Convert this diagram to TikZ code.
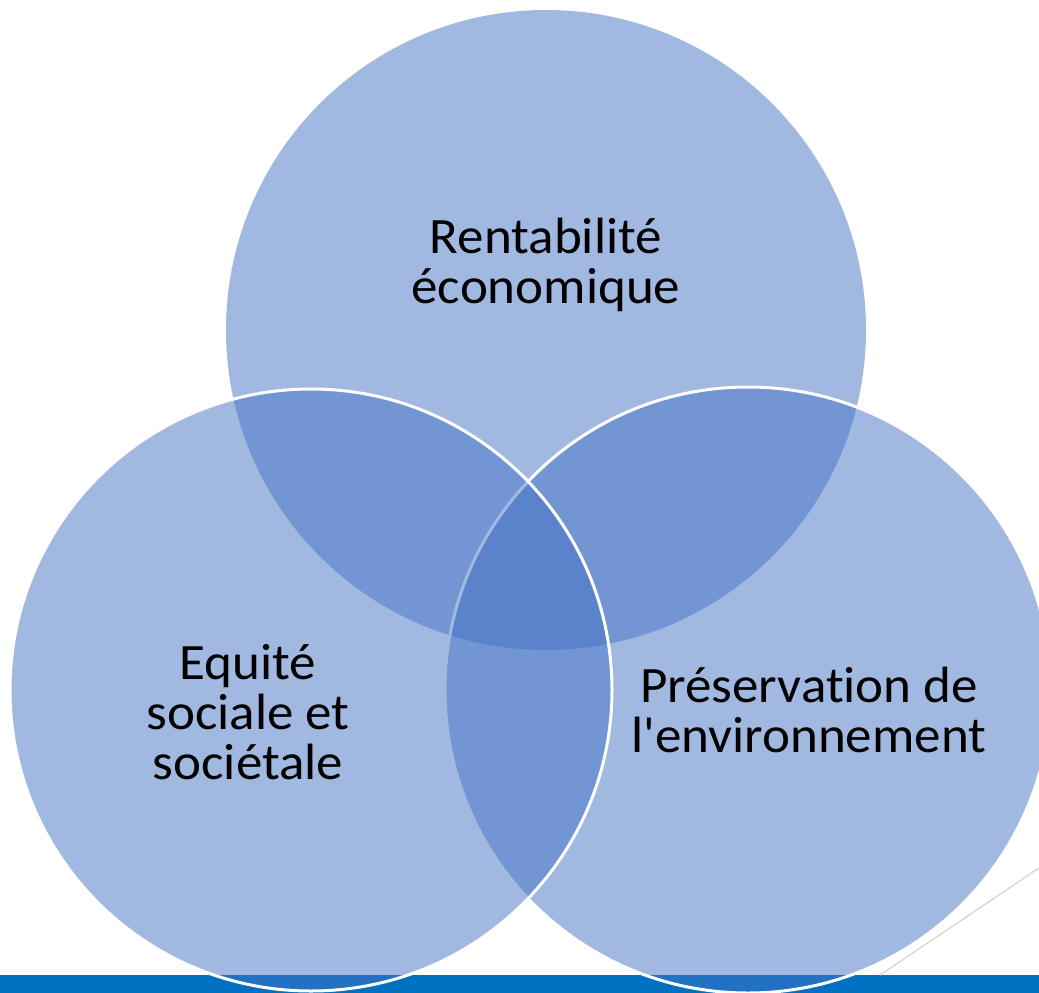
\documentclass[tikz,border=0pt]{standalone}
\usepackage{fontspec}
\setmainfont{Carlito}[Ligatures={NoCommon}, FakeStretch=1.04]
\definecolor{vennblue}{HTML}{4472C4}
\definecolor{barblue}{HTML}{0070C0}
\definecolor{linegray}{HTML}{D9D9D9}
\tikzset{
  venn/.style={fill=vennblue, fill opacity=0.5, draw=white, line width=3pt},
  lbl/.style={align=center, font=\fontsize{51}{50}\selectfont, text=black}
}
\begin{document}
\begin{tikzpicture}[x=1pt,y=-1pt]
\useasboundingbox (0,0) rectangle (1039,993);
\fill [barblue] (0,975) rectangle (1039,993);
\draw [linegray, line width=1.5pt] (880,975)--(1039,868);
\fill [vennblue, fill opacity=0.5] (546,330) circle [radius=320];
\draw [venn] (748,690) circle [radius=303];
\draw [venn] (311,690) circle [radius=301];
\node[lbl] (econ) at (546,265) {Rentabilité\\économique};
\node[lbl] (social) at (248,712) {Equité\\sociale et\\sociétale};
\node[lbl] (envir) at (809,710) {Préservation de\\l\textquotesingle environnement};
\end{tikzpicture}
\end{document}
